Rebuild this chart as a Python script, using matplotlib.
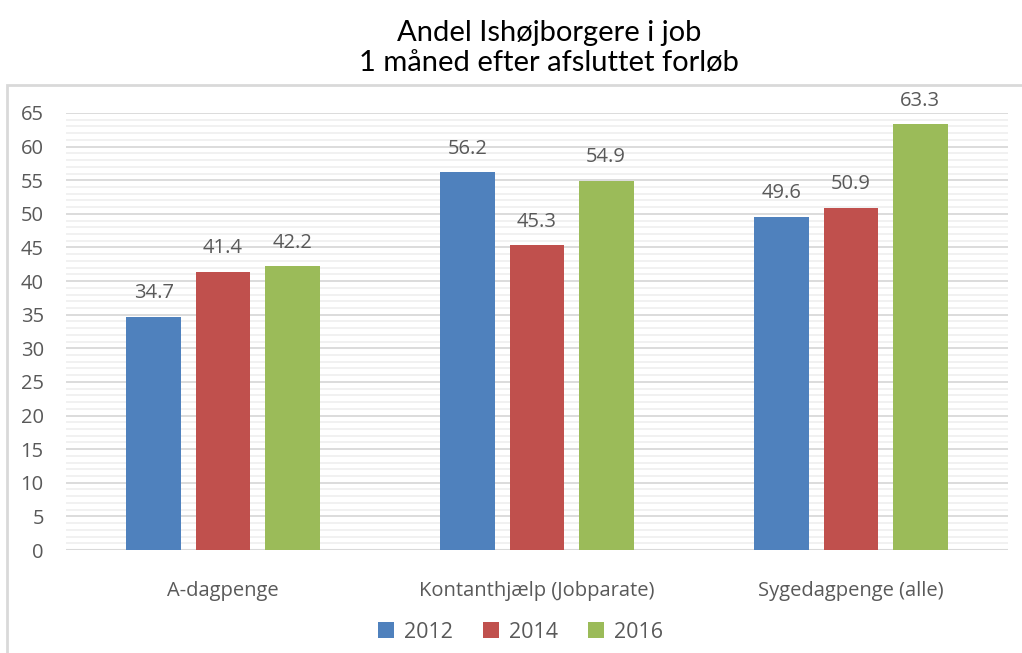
import numpy as np
import matplotlib
matplotlib.use("Agg")
import matplotlib.pyplot as plt
from matplotlib.patches import Rectangle

categories = ["A-dagpenge", "Kontanthjælp (Jobparate)", "Sygedagpenge (alle)"]
years = ["2012", "2014", "2016"]
v2012 = [34.7, 56.2, 49.6]
v2014 = [41.4, 45.3, 50.9]
v2016 = [42.2, 54.9, 63.3]
colors = ["#4f81bd", "#c0504d", "#9bbb59"]

plt.rcParams['font.family'] = ['Open Sans', 'DejaVu Sans']
txt = "#595959"
fs = 14.5

fig = plt.figure(figsize=(10.22, 6.53), dpi=100)
ax = fig.add_axes([66/1022, 1 - 550/653, 942/1022, 437/653])

# chart frame
fig.patches.append(Rectangle((7/1022, -0.01), 1.1, 1 - 85/653 + 0.01, transform=fig.transFigure,
                             fill=False, edgecolor="#d9d9d9", linewidth=2))

x = np.arange(len(categories))
w = 0.175
step = 0.22
for i, (vals, yr) in enumerate(zip([v2012, v2014, v2016], years)):
    pos = x + (i - 1) * step
    ax.bar(pos, vals, width=w, color=colors[i], label=yr, zorder=3)
    for p, v in zip(pos, vals):
        ax.text(p, v + 2.0, f"{v:.1f}", ha="center", va="bottom", fontsize=fs, color=txt)

ax.set_xlim(-0.5, 2.5)
ax.set_ylim(0, 65)
ax.set_yticks(np.arange(0, 66, 5))
ax.set_yticks(np.arange(0, 66, 1), minor=True)
ax.grid(axis="y", which="major", color="#d9d9d9", linewidth=1.3, zorder=0)
ax.grid(axis="y", which="minor", color="#f0f0f0", linewidth=1.3, zorder=0)
ax.set_axisbelow(True)
for s in ax.spines.values():
    s.set_visible(False)
ax.axhline(0, color="#d9d9d9", linewidth=1.5, zorder=2)
ax.tick_params(axis="y", which="both", length=0, labelsize=fs, labelcolor=txt, pad=16)
ax.tick_params(axis="x", length=0, labelsize=fs, labelcolor=txt, pad=22)
ax.set_xticks(x)
ax.set_xticklabels(categories)

fig.text(0.537, 1 - 48/653, "Andel Ishøjborgere i job\n1 måned efter afsluttet forløb",
         ha="center", va="center", fontsize=21, color="black", family=["Lato", "DejaVu Sans"],
         linespacing=1.2)

fig.legend(loc="center", bbox_to_anchor=(0.509, 1 - 632/653), ncol=3, frameon=False,
           fontsize=15.5, handlelength=0.75, handleheight=0.75, columnspacing=1.4, handletextpad=0.45,
           labelcolor=txt)

fig.savefig("out.png", dpi=100)
